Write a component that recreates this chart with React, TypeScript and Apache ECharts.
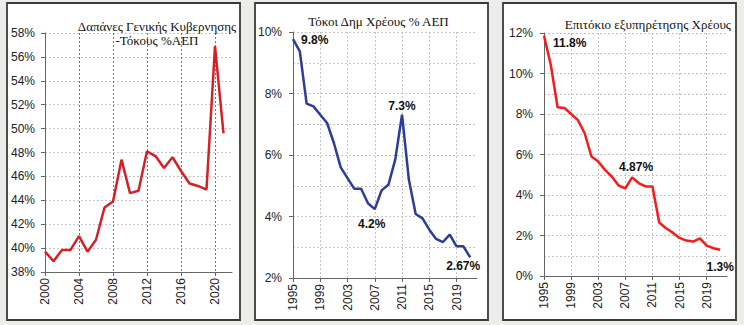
import React, { useEffect, useRef } from "react";
import * as echarts from "echarts";

// Panel 1: Δαπάνες Γενικής Κυβέρνησης - Τόκους % ΑΕΠ (2000-2021)
const years1 = ["2000","2001","2002","2003","2004","2005","2006","2007","2008","2009","2010","2011","2012","2013","2014","2015","2016","2017","2018","2019","2020","2021","2022"];
const spending = [39.7, 38.9, 39.85, 39.85, 41.0, 39.7, 40.7, 43.4, 43.9, 47.4, 44.6, 44.8, 48.1, 47.7, 46.7, 47.6, 46.45, 45.4, 45.2, 44.9, 56.9, 49.6];

// Panels 2 & 3 (1995-2021)
const years2 = ["1995","1996","1997","1998","1999","2000","2001","2002","2003","2004","2005","2006","2007","2008","2009","2010","2011","2012","2013","2014","2015","2016","2017","2018","2019","2020","2021","2022"];
const interestGdp = [9.77, 9.37, 7.67, 7.58, 7.31, 7.04, 6.39, 5.6, 5.25, 4.9, 4.9, 4.43, 4.24, 4.85, 5.03, 5.85, 7.31, 5.2, 4.08, 3.94, 3.57, 3.27, 3.17, 3.41, 3.03, 3.03, 2.67];
const debtRate = [11.87, 10.43, 8.33, 8.3, 8.0, 7.7, 7.05, 5.9, 5.65, 5.24, 4.91, 4.47, 4.33, 4.87, 4.58, 4.42, 4.42, 2.64, 2.36, 2.14, 1.88, 1.75, 1.7, 1.86, 1.5, 1.37, 1.3];

const interestNotes = [
  { year: "1995", text: "9.8%" },
  { year: "2011", text: "7.3%" },
  { year: "2007", text: "4.2%" },
  { year: "2021", text: "2.67%" },
];
const rateNotes = [
  { year: "1995", text: "11.8%" },
  { year: "2008", text: "4.87%" },
  { year: "2021", text: "1.3%" },
];

const titles = {
  p1a: "Δαπάνες Γενικής Κυβερνησης",
  p1b: "-Τόκους %ΑΕΠ",
  p2: "Τόκοι Δημ Χρέους % ΑΕΠ",
  p3: "Επιτόκιο εξυπηρέτησης Χρέους",
};

const SANS = "'Liberation Sans Narrow', 'Liberation Sans', Arial, sans-serif";
const SERIF = "'Liberation Serif', 'Times New Roman', serif";

const labelStyles: Record<string, any> = {
  "interest-1995": { position: "right", distance: 8, offset: [0, 1] },
  "interest-2011": { position: "top", distance: 3 },
  "interest-2007": { position: "bottom", distance: 9, offset: [-3, 0] },
  "interest-2021": { position: "bottom", distance: 3, offset: [-7, 0] },
  "rate-1995": { position: "right", distance: 9, offset: [0, 7] },
  "rate-2008": { position: "top", distance: 4, offset: [4, 0] },
  "rate-2021": { position: "bottom", distance: 11 },
};

function withNotes(values: number[], cats: string[], notes: { year: string; text: string }[], key: string) {
  return values.map((v, i) => {
    const n = notes.find((x) => x.year === cats[i]);
    if (!n) return v;
    return {
      value: v,
      label: {
        show: true,
        formatter: n.text,
        fontFamily: SANS,
        fontWeight: "bold",
        fontSize: 12,
        color: "#111",
        ...labelStyles[`${key}-${n.year}`],
      },
    };
  });
}

export default function App() {
  const ref = useRef<HTMLDivElement>(null);
  useEffect(() => {
    document.body.style.margin = "0";
    const chart = echarts.init(ref.current!, undefined, { renderer: "svg" });
    const axisLine = { show: true, lineStyle: { color: "#666", width: 1 } };
    const yLabel = { fontFamily: SANS, fontSize: 12, color: "#222", margin: 10 };
    const xLabel = { fontFamily: SANS, fontSize: 12, color: "#222", rotate: 90, margin: 6, interval: 3 };
    const lightGrid = { show: true, lineStyle: { color: "#c4c4c4", type: [2, 2], width: 1 } };

    chart.setOption({
      animation: false,
      backgroundColor: "#ececea",
      graphic: [
        { type: "rect", shape: { x: 7, y: 3, width: 233, height: 317 }, style: { fill: "#fff", stroke: "#3a3a3a", lineWidth: 1.8 }, z: -10 },
        { type: "rect", shape: { x: 255, y: 3, width: 233, height: 317 }, style: { fill: "#fff", stroke: "#3a3a3a", lineWidth: 1.8 }, z: -10 },
        { type: "rect", shape: { x: 503, y: 3, width: 233, height: 317 }, style: { fill: "#fff", stroke: "#3a3a3a", lineWidth: 1.8 }, z: -10 },
        { type: "text", x: 157, y: 26, z: 10, style: { text: titles.p1a, font: `13px ${SERIF}`, fill: "#111", align: "center", verticalAlign: "middle" } },
        { type: "text", x: 157, y: 40, z: 10, style: { text: titles.p1b, font: `13px ${SERIF}`, fill: "#111", align: "center", verticalAlign: "middle" } },
        { type: "text", x: 378.5, y: 21, z: 10, style: { text: titles.p2, font: `13px ${SERIF}`, fill: "#111", align: "center", verticalAlign: "middle" } },
        { type: "text", x: 731, y: 24, z: 10, style: { text: titles.p3, font: `13px ${SERIF}`, fill: "#111", align: "right", verticalAlign: "middle" } },
      ],
      grid: [
        { left: 45, right: 512, top: 33, bottom: 53 },
        { left: 293, right: 267, top: 32, bottom: 47 },
        { left: 544, right: 17, top: 33, bottom: 49 },
      ],
      xAxis: [
        {
          gridIndex: 0, type: "category", data: years1, boundaryGap: false,
          axisLine, axisTick: { show: true, interval: 3, length: 4, lineStyle: { color: "#666" } },
          axisLabel: xLabel,
          splitLine: { show: true, interval: 3, lineStyle: { color: "#777", type: [2, 2], width: 1 } },
        },
        {
          gridIndex: 1, type: "category", data: years2, boundaryGap: false,
          axisLine, axisTick: { show: true, interval: 3, length: 4, lineStyle: { color: "#666" } },
          axisLabel: xLabel,
          splitLine: { ...lightGrid, interval: 3 },
        },
        {
          gridIndex: 2, type: "category", data: years2, boundaryGap: false,
          axisLine, axisTick: { show: true, interval: 3, length: 4, lineStyle: { color: "#666" } },
          axisLabel: xLabel,
          splitLine: { ...lightGrid, interval: 3 },
        },
      ],
      yAxis: [
        {
          gridIndex: 0, type: "value", min: 38, max: 58, interval: 2,
          axisLine, axisTick: { show: true, length: 4, lineStyle: { color: "#666" } },
          axisLabel: { ...yLabel, formatter: "{value}%" },
          splitLine: lightGrid,
        },
        {
          gridIndex: 1, type: "value", min: 2, max: 10, interval: 2,
          axisLine, axisTick: { show: true, length: 4, lineStyle: { color: "#666" } },
          axisLabel: { ...yLabel, margin: 11, formatter: "{value}%" },
          splitLine: lightGrid,
          minorTick: { show: false, splitNumber: 2 },
          minorSplitLine: lightGrid,
        },
        {
          gridIndex: 2, type: "value", min: 0, max: 12, interval: 2,
          axisLine, axisTick: { show: true, length: 4, lineStyle: { color: "#666" } },
          axisLabel: { ...yLabel, margin: 11, formatter: "{value}%" },
          splitLine: lightGrid,
          minorTick: { show: false, splitNumber: 2 },
          minorSplitLine: lightGrid,
        },
      ],
      series: [
        {
          type: "line", xAxisIndex: 0, yAxisIndex: 0, data: spending,
          showSymbol: false, symbol: "none", lineStyle: { color: "#d42027", width: 2.5 },
        },
        {
          type: "line", xAxisIndex: 1, yAxisIndex: 1, data: withNotes(interestGdp, years2, interestNotes, "interest"),
          symbol: "circle", symbolSize: 0.01, itemStyle: { color: "#2b3c9c" },
          lineStyle: { color: "#2b3c9c", width: 2.5 },
        },
        {
          type: "line", xAxisIndex: 2, yAxisIndex: 2, data: withNotes(debtRate, years2, rateNotes, "rate"),
          symbol: "circle", symbolSize: 0.01, itemStyle: { color: "#f51c1c" },
          lineStyle: { color: "#f51c1c", width: 2.5 },
        },
      ],
    });
    return () => chart.dispose();
  }, []);
  return <div ref={ref} style={{ position: "fixed", left: 0, top: 0, width: 744, height: 325 }} />;
}
